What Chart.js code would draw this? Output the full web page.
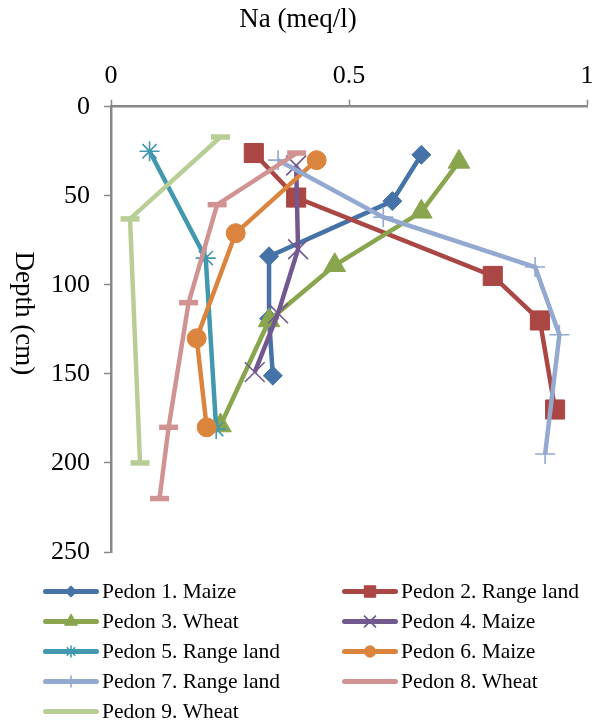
<!DOCTYPE html>
<html>
<head>
<meta charset="utf-8">
<title>Na profile by depth</title>
<script src="https://cdn.jsdelivr.net/npm/chart.js"></script>
<style>
  html, body { margin: 0; padding: 0; background: #ffffff; }
  #wrap { width: 592px; height: 724px; }
</style>
</head>
<body>
<div id="wrap"><canvas id="c" width="592" height="724"></canvas></div>
<script>
// Series names
const pedonNames = [
  'Pedon 1. Maize', 'Pedon 2. Range land', 'Pedon 3. Wheat',
  'Pedon 4. Maize', 'Pedon 5. Range land', 'Pedon 6. Maize',
  'Pedon 7. Range land', 'Pedon 8. Wheat', 'Pedon 9. Wheat'
];

// Na (meq/l) and sampling depth (cm) per pedon
const pedon1Na = [0.652, 0.591, 0.332, 0.332, 0.340];
const pedon1Depth = [27, 53, 84, 119, 151];
const pedon2Na = [0.300, 0.389, 0.802, 0.901, 0.933];
const pedon2Depth = [26, 51, 95, 120, 170];
const pedon3Na = [0.731, 0.652, 0.470, 0.332, 0.230];
const pedon3Depth = [31, 59, 89, 120, 179];
const pedon4Na = [0.389, 0.393, 0.351, 0.302];
const pedon4Depth = [33, 80, 116, 149];
const pedon5Na = [0.081, 0.199, 0.221];
const pedon5Depth = [25, 85, 181];
const pedon6Na = [0.432, 0.262, 0.180, 0.201];
const pedon6Depth = [30, 71, 130, 180];
const pedon7Na = [0.351, 0.572, 0.891, 0.942, 0.912];
const pedon7Depth = [30, 62, 90, 128, 195];
const pedon8Na = [0.390, 0.223, 0.163, 0.121, 0.102];
const pedon8Depth = [26, 55, 110, 180, 220];
const pedon9Na = [0.230, 0.040, 0.061];
const pedon9Depth = [17, 63, 200];

// Axis ticks
const naTicks = [0, 0.5, 1];
const naTickLabels = ['0', '0.5', '1'];
const depthTicks = [0, 50, 100, 150, 200, 250];

const naSeries = [pedon1Na, pedon2Na, pedon3Na, pedon4Na, pedon5Na, pedon6Na, pedon7Na, pedon8Na, pedon9Na];
const depthSeries = [pedon1Depth, pedon2Depth, pedon3Depth, pedon4Depth, pedon5Depth, pedon6Depth, pedon7Depth, pedon8Depth, pedon9Depth];

// Styling per series
const colors = ['#4572A7', '#AA4643', '#89A54E', '#71588F', '#4198AF', '#DB843D', '#93A9CF', '#D19392', '#B9CD96'];
const markers = [
  { style: 'rectRot', r: 9.5, bw: 1 },
  { style: 'rect', r: 13.5, bw: 1 },
  { style: 'triangle', r: 12.5, bw: 1 },
  { style: 'crossRot', r: 14, bw: 1.6 },
  { style: 'star', r: 10, bw: 1.6 },
  { style: 'circle', r: 9.5, bw: 1 },
  { style: 'cross', r: 10, bw: 1.6 },
  { style: 'line', r: 9.5, bw: 5.5 },
  { style: 'line', r: 9.5, bw: 5.5 }
];

const FONT = "'Liberation Serif', 'Times New Roman', serif";

const datasets = pedonNames.map((name, i) => ({
  label: name,
  data: naSeries[i].map((v, k) => ({ x: v, y: depthSeries[i][k] })),
  showLine: true,
  borderColor: colors[i],
  backgroundColor: colors[i],
  borderWidth: 4.5,
  pointStyle: markers[i].style,
  pointRadius: markers[i].r,
  pointBorderWidth: markers[i].bw,
  pointBackgroundColor: colors[i],
  pointBorderColor: colors[i],
  order: pedonNames.length - 1 - i,
  clip: false
}));

// Rotated depth title on the left side
const depthTitle = {
  id: 'depthTitle',
  afterDraw(chart) {
    const ctx = chart.ctx;
    const area = chart.chartArea;
    ctx.save();
    ctx.fillStyle = '#000000';
    ctx.font = "27px " + FONT;
    ctx.textAlign = 'center';
    ctx.textBaseline = 'alphabetic';
    ctx.translate(15.5, (area.top + area.bottom) / 2 - 16);
    ctx.rotate(Math.PI / 2);
    ctx.fillText('Depth (cm)', 0, 0);
    ctx.restore();
  }
};

// Two-column legend with line + marker samples
const pedonLegend = {
  id: 'pedonLegend',
  afterDraw(chart) {
    const ctx = chart.ctx;
    const helpers = Chart.helpers;
    chart.data.datasets.forEach((ds, i) => {
      const col = i % 2;
      const row = Math.floor(i / 2);
      const x0 = col ? 342 : 43;
      const y = 591.5 + row * 30;
      ctx.save();
      ctx.strokeStyle = ds.borderColor;
      ctx.lineWidth = 5;
      ctx.lineCap = 'round';
      ctx.beginPath();
      ctx.moveTo(x0 + 2.5, y);
      ctx.lineTo(x0 + 53.5, y);
      ctx.stroke();
      if (ds.pointStyle !== 'line' && helpers && helpers.drawPoint) {
        ctx.lineCap = 'butt';
        ctx.fillStyle = ds.pointBackgroundColor;
        ctx.strokeStyle = ds.pointBorderColor;
        ctx.lineWidth = ds.pointBorderWidth;
        helpers.drawPoint(ctx, {
          pointStyle: ds.pointStyle,
          radius: ds.pointRadius * 0.6,
          rotation: 0,
          borderWidth: ds.pointBorderWidth
        }, x0 + 28, y);
      }
      ctx.fillStyle = '#000000';
      ctx.font = "21.5px " + FONT;
      ctx.textAlign = 'left';
      ctx.textBaseline = 'middle';
      ctx.fillText(ds.label, x0 + 59, y + 1);
      ctx.restore();
    });
  }
};

new Chart(document.getElementById('c'), {
  type: 'scatter',
  data: { datasets },
  plugins: [depthTitle, pedonLegend],
  options: {
    responsive: false,
    animation: false,
    events: [],
    layout: { autoPadding: false, padding: { top: 0, left: 9, right: 5, bottom: 172 } },
    plugins: {
      legend: { display: false },
      tooltip: { enabled: false },
      title: {
        display: true,
        text: 'Na (meq/l)',
        color: '#000000',
        font: { family: FONT, size: 27, weight: 'normal' },
        padding: { top: 4, bottom: 16 }
      }
    },
    scales: {
      x: {
        type: 'linear',
        position: 'top',
        min: naTicks[0],
        max: naTicks[naTicks.length - 1],
        afterBuildTicks(scale) { scale.ticks = naTicks.map(v => ({ value: v })); },
        afterFit(scale) { scale.paddingRight = 0; scale.paddingLeft = 0; },
        ticks: {
          color: '#000000',
          font: { family: FONT, size: 26, lineHeight: 1.82 },
          padding: 0,
          maxRotation: 0,
          callback: (value, index) => naTickLabels[index]
        },
        grid: {
          drawOnChartArea: false,
          drawTicks: true,
          tickLength: 7,
          tickColor: '#888888',
          tickWidth: 1.5
        },
        border: { color: '#888888', width: 2.5 }
      },
      y: {
        type: 'linear',
        reverse: true,
        min: depthTicks[0],
        max: depthTicks[depthTicks.length - 1],
        afterBuildTicks(scale) { scale.ticks = depthTicks.map(v => ({ value: v })); },
        afterFit(scale) { scale.width = 102; },
        ticks: {
          color: '#000000',
          font: { family: FONT, size: 26 },
          padding: 14
        },
        grid: {
          drawOnChartArea: false,
          drawTicks: true,
          tickLength: 7,
          tickColor: '#888888',
          tickWidth: 1.5
        },
        border: { color: '#888888', width: 2.5 }
      }
    }
  }
});
</script>
</body>
</html>
